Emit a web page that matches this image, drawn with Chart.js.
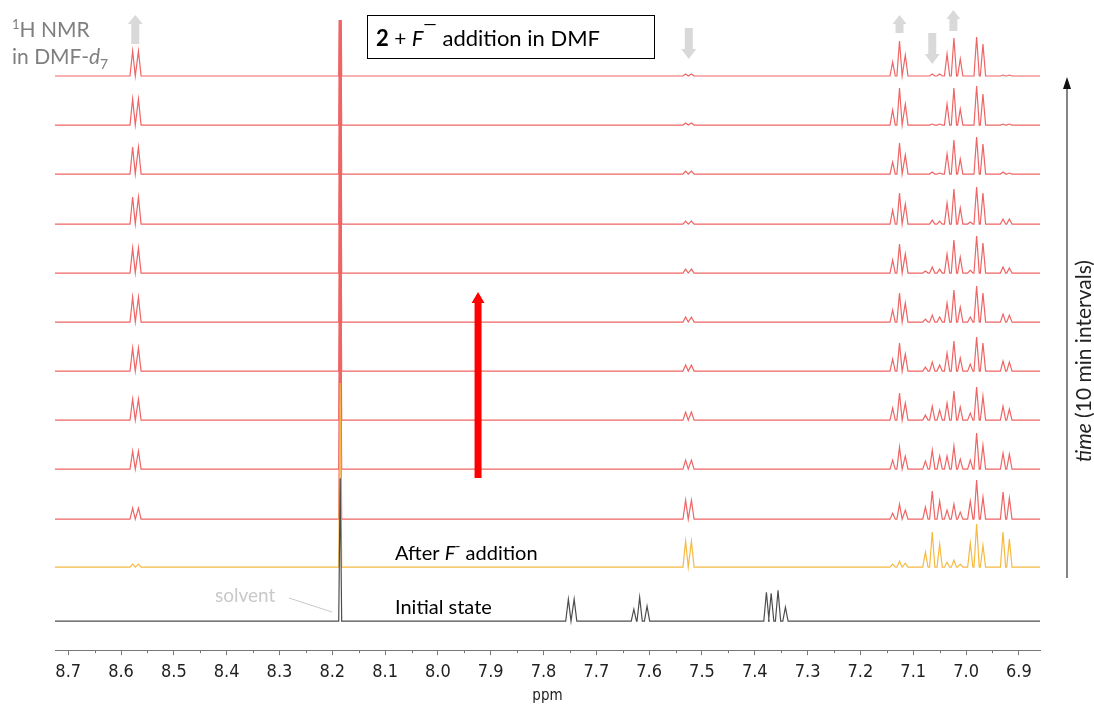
<!DOCTYPE html>
<html>
<head>
<meta charset="utf-8">
<script src="https://cdn.jsdelivr.net/npm/chart.js@4.4.1/dist/chart.umd.min.js"></script>
<style>
html, body { margin: 0; padding: 0; background: #fff; }
#wrap { position: relative; width: 1094px; height: 704px; }
</style>
</head>
<body>
<div id="wrap"><canvas id="chart" width="1094" height="704"></canvas></div>
<script>
// axis range (ppm) and tick labels
const ppmMin = 6.86;
const ppmMax = 8.725;
const tickValues = [8.7, 8.6, 8.5, 8.4, 8.3, 8.2, 8.1, 8.0, 7.9, 7.8, 7.7, 7.6, 7.5, 7.4, 7.3, 7.2, 7.1, 7.0, 6.9];
const tickLabels = ['8.7', '8.6', '8.5', '8.4', '8.3', '8.2', '8.1', '8.0', '7.9', '7.8', '7.7', '7.6', '7.5', '7.4', '7.3', '7.2', '7.1', '7.0', '6.9'];
const minorTicks = [8.65, 8.55, 8.45, 8.35, 8.25, 8.15, 8.05, 7.95, 7.85, 7.75, 7.65, 7.55, 7.45, 7.35, 7.25, 7.15, 7.05, 6.95];

// traces, bottom to top: initial, after F- addition, then 10 min intervals
const traceNames = ['Initial state', 'After F- addition', 't1', 't2', 't3', 't4', 't5', 't6', 't7', 't8', 't9', 't10'];
const traceOffsets = [0, 54, 102, 152, 201, 250, 299, 348, 397, 447, 496, 545];

// solvent signal
const solventPpm = 8.185;
const solventHeights = [143, 184, 185, 185, 185, 185, 185, 185, 185, 185, 185, 185];

// signals of the initial state only
const initialPpm = [7.753, 7.742, 7.629, 7.618, 7.604, 7.378, 7.369, 7.356, 7.342];
const initialHeights = [22, 22, 12, 24, 15, 29, 28, 31, 14];

// doublet near 8.57
const doubletAPpm = [8.578, 8.567];
const doubletAHeights = [0, 3, 11, 18, 21, 23, 25, 25, 27, 27, 26, 25];

// doublet near 7.53
const doubletBPpm = [7.531, 7.520];
const doubletBHeights = [0, 26, 19, 9, 8, 6, 5, 4, 3, 3, 2, 2];

// aromatic region 7.15 - 6.9
const arylPpm = [7.139, 7.126, 7.115, 7.077, 7.064, 7.050, 7.036, 7.023, 7.011, 6.992, 6.980, 6.968, 6.930, 6.918];
const arylHeights = [
    [0, 0, 0, 0, 0, 0, 0, 0, 0, 0, 0, 0, 0, 0],
    [3, 6, 4, 15, 35, 23, 5, 7, 3, 24, 43, 22, 35, 28],
    [6, 15, 9, 12, 28, 18, 9, 15, 7, 18, 39, 22, 27, 21],
    [9, 22, 13, 8, 19, 13, 13, 23, 10, 9, 36, 24, 16, 15],
    [12, 27, 17, 5, 14, 10, 17, 29, 13, 7, 33, 24, 14, 11],
    [12, 28, 17, 4, 9, 6, 18, 30, 13, 7, 34, 28, 10, 9],
    [12, 29, 19, 3, 7, 5, 19, 32, 15, 5, 36, 29, 8, 7],
    [13, 29, 19, 2, 6, 4, 19, 33, 16, 3, 37, 30, 6, 5],
    [14, 31, 20, 0, 4, 3, 21, 35, 16, 2, 37, 31, 5, 5],
    [12, 31, 19, 0, 2, 1, 20, 34, 15, 0, 37, 30, 2, 1],
    [15, 37, 21, 0, 1, 1, 21, 37, 16, 0, 39, 31, 1, 1],
    [14, 35, 21, 0, 2, 2, 22, 38, 17, 0, 39, 32, 1, 1]
];

const lineHalfWidth = 0.005;
const traceColors = ['#4d4d4d', '#f6b942', '#ef6464', '#ef6464', '#ef6464', '#ef6464', '#ef6464', '#ef6464', '#ef6464', '#ef6464', '#ef6464', '#ef6464'];
const labelFont = "Lato, 'Open Sans', sans-serif";

// peak list -> stick-like points for one trace
function traceData(t) {
    const peaks = [{ ppm: solventPpm, h: solventHeights[t], w: 0.0028 }];
    if (t === 0) {
        initialPpm.forEach((p, i) => peaks.push({ ppm: p, h: initialHeights[i] }));
    }
    doubletAPpm.forEach(p => peaks.push({ ppm: p, h: doubletAHeights[t] }));
    doubletBPpm.forEach(p => peaks.push({ ppm: p, h: doubletBHeights[t] }));
    arylPpm.forEach((p, i) => peaks.push({ ppm: p, h: arylHeights[t][i] }));

    const base = traceOffsets[t];
    const pts = [{ x: ppmMax, y: base }];
    peaks.filter(pk => pk.h > 0).sort((a, b) => b.ppm - a.ppm).forEach(pk => {
        const w = pk.w || lineHalfWidth;
        pts.push({ x: pk.ppm + w, y: base });
        pts.push({ x: pk.ppm, y: base + pk.h });
        pts.push({ x: pk.ppm - w, y: base });
    });
    pts.push({ x: ppmMin, y: base });
    return pts;
}

const datasets = traceNames.map((name, t) => ({
    label: name,
    data: traceData(t),
    borderColor: traceColors[t],
    borderWidth: 1.2,
    pointRadius: 0,
    tension: 0,
    fill: false
}));

// text made of several pieces with their own fonts
function drawParts(ctx, x, y, parts, color) {
    ctx.fillStyle = color;
    ctx.textBaseline = 'alphabetic';
    ctx.textAlign = 'left';
    parts.forEach(p => {
        ctx.font = p.font;
        ctx.fillText(p.text, x, y + (p.dy || 0));
        x += ctx.measureText(p.text).width;
    });
}

function partsWidth(ctx, parts) {
    let w = 0;
    parts.forEach(p => { ctx.font = p.font; w += ctx.measureText(p.text).width; });
    return w;
}

function blockArrow(ctx, x, y1, y2, shaft, head, headLen, color) {
    // arrow pointing from y1 to y2
    const dir = y2 > y1 ? 1 : -1;
    const hb = y2 - dir * headLen;
    ctx.fillStyle = color;
    ctx.beginPath();
    ctx.moveTo(x - shaft, y1);
    ctx.lineTo(x + shaft, y1);
    ctx.lineTo(x + shaft, hb);
    ctx.lineTo(x + head, hb);
    ctx.lineTo(x, y2);
    ctx.lineTo(x - head, hb);
    ctx.lineTo(x - shaft, hb);
    ctx.closePath();
    ctx.fill();
}

const overlay = {
    id: 'overlay',
    afterDraw(chart) {
        const ctx = chart.ctx;
        const xs = chart.scales.x;
        const bottom = chart.chartArea.bottom;
        ctx.save();

        // minor ticks
        ctx.strokeStyle = '#777';
        ctx.lineWidth = 1;
        minorTicks.forEach(v => {
            const px = Math.round(xs.getPixelForValue(v)) + 0.5;
            ctx.beginPath();
            ctx.moveTo(px, bottom);
            ctx.lineTo(px, bottom + 3);
            ctx.stroke();
        });

        // grey trend arrows
        const grey = '#d9d9d9';
        blockArrow(ctx, xs.getPixelForValue(8.573), 44, 15, 4, 7.5, 9, grey);
        blockArrow(ctx, xs.getPixelForValue(7.525), 28, 59, 4, 7.5, 10, grey);
        blockArrow(ctx, xs.getPixelForValue(7.126), 33, 15, 4, 7, 9, grey);
        blockArrow(ctx, xs.getPixelForValue(7.064), 33, 64, 4, 7.5, 10, grey);
        blockArrow(ctx, xs.getPixelForValue(7.024), 31, 10, 4, 7, 9, grey);

        // red time arrow
        blockArrow(ctx, xs.getPixelForValue(7.924), 478, 292, 3.5, 6.5, 11, '#ff0000');

        // title box
        ctx.fillStyle = '#fff';
        ctx.fillRect(367, 15, 287, 43);
        ctx.strokeStyle = '#000';
        ctx.lineWidth = 1;
        ctx.strokeRect(367.5, 15.5, 287, 43);
        drawParts(ctx, 376, 46, [
            { text: '2', font: 'bold 22px ' + labelFont },
            { text: ' + ', font: '21px ' + labelFont },
            { text: 'F', font: 'italic 22px ' + labelFont },
            { text: '\u2014', font: '17px ' + labelFont, dy: -16 },
            { text: ' addition in DMF', font: '22px ' + labelFont }
        ], '#000');

        // top left label
        drawParts(ctx, 12, 37, [
            { text: '1', font: '13px ' + labelFont, dy: -8 },
            { text: 'H NMR', font: '21px ' + labelFont }
        ], '#7f7f7f');
        drawParts(ctx, 12, 64, [
            { text: 'in DMF-', font: '21px ' + labelFont },
            { text: 'd', font: 'italic 21px ' + labelFont },
            { text: '7', font: '14px ' + labelFont, dy: 5 }
        ], '#7f7f7f');

        // trace labels
        drawParts(ctx, 395, 560, [
            { text: 'After ', font: '20px ' + labelFont },
            { text: 'F', font: 'italic 20px ' + labelFont },
            { text: '-', font: '14px ' + labelFont, dy: -9 },
            { text: ' addition', font: '20px ' + labelFont }
        ], '#000');
        drawParts(ctx, 395, 614, [
            { text: 'Initial state', font: '20px ' + labelFont }
        ], '#000');
        drawParts(ctx, 215, 602, [
            { text: 'solvent', font: '19px ' + labelFont }
        ], '#c9c9c9');
        ctx.strokeStyle = '#c9c9c9';
        ctx.beginPath();
        ctx.moveTo(289, 598);
        ctx.lineTo(332, 612);
        ctx.stroke();

        // time axis arrow
        ctx.strokeStyle = '#333';
        ctx.lineWidth = 1.2;
        ctx.beginPath();
        ctx.moveTo(1067, 578);
        ctx.lineTo(1067, 86);
        ctx.stroke();
        ctx.fillStyle = '#111';
        ctx.beginPath();
        ctx.moveTo(1067, 77);
        ctx.lineTo(1071, 89);
        ctx.lineTo(1063, 89);
        ctx.closePath();
        ctx.fill();

        ctx.translate(1091, 361);
        ctx.rotate(-Math.PI / 2);
        const timeParts = [
            { text: 'time', font: 'italic 21px ' + labelFont },
            { text: ' (10 min intervals)', font: '21px ' + labelFont }
        ];
        drawParts(ctx, -partsWidth(ctx, timeParts) / 2, 0, timeParts, '#222');

        ctx.restore();
    }
};

const tickFont = "'DejaVu Sans Condensed', 'DejaVu Sans', sans-serif";

new Chart(document.getElementById('chart'), {
    type: 'line',
    data: { datasets: datasets },
    options: {
        responsive: false,
        animation: false,
        layout: { padding: { left: 55, right: 54, top: 20, bottom: 0 } },
        plugins: {
            legend: { display: false },
            tooltip: { enabled: false }
        },
        scales: {
            x: {
                type: 'linear',
                reverse: true,
                min: ppmMin,
                max: ppmMax,
                afterBuildTicks: function(scale) {
                    scale.ticks = tickValues.map(v => ({ value: v }));
                },
                ticks: {
                    autoSkip: false,
                    maxRotation: 0,
                    padding: 7,
                    color: '#222',
                    font: { family: tickFont, size: 18, lineHeight: 1.1 },
                    callback: function(value) {
                        const i = tickValues.findIndex(v => Math.abs(v - value) < 1e-6);
                        return i >= 0 ? tickLabels[i] : '';
                    }
                },
                grid: { drawOnChartArea: false, tickLength: 5, color: '#777' },
                border: { color: '#777', width: 1 },
                title: {
                    display: true,
                    text: 'ppm',
                    color: '#222',
                    font: { family: tickFont, size: 15, lineHeight: 1 },
                    padding: { top: 0, bottom: 0 }
                }
            },
            y: { display: false, min: -29, max: 601 }
        }
    },
    plugins: [overlay]
});
</script>
</body>
</html>
